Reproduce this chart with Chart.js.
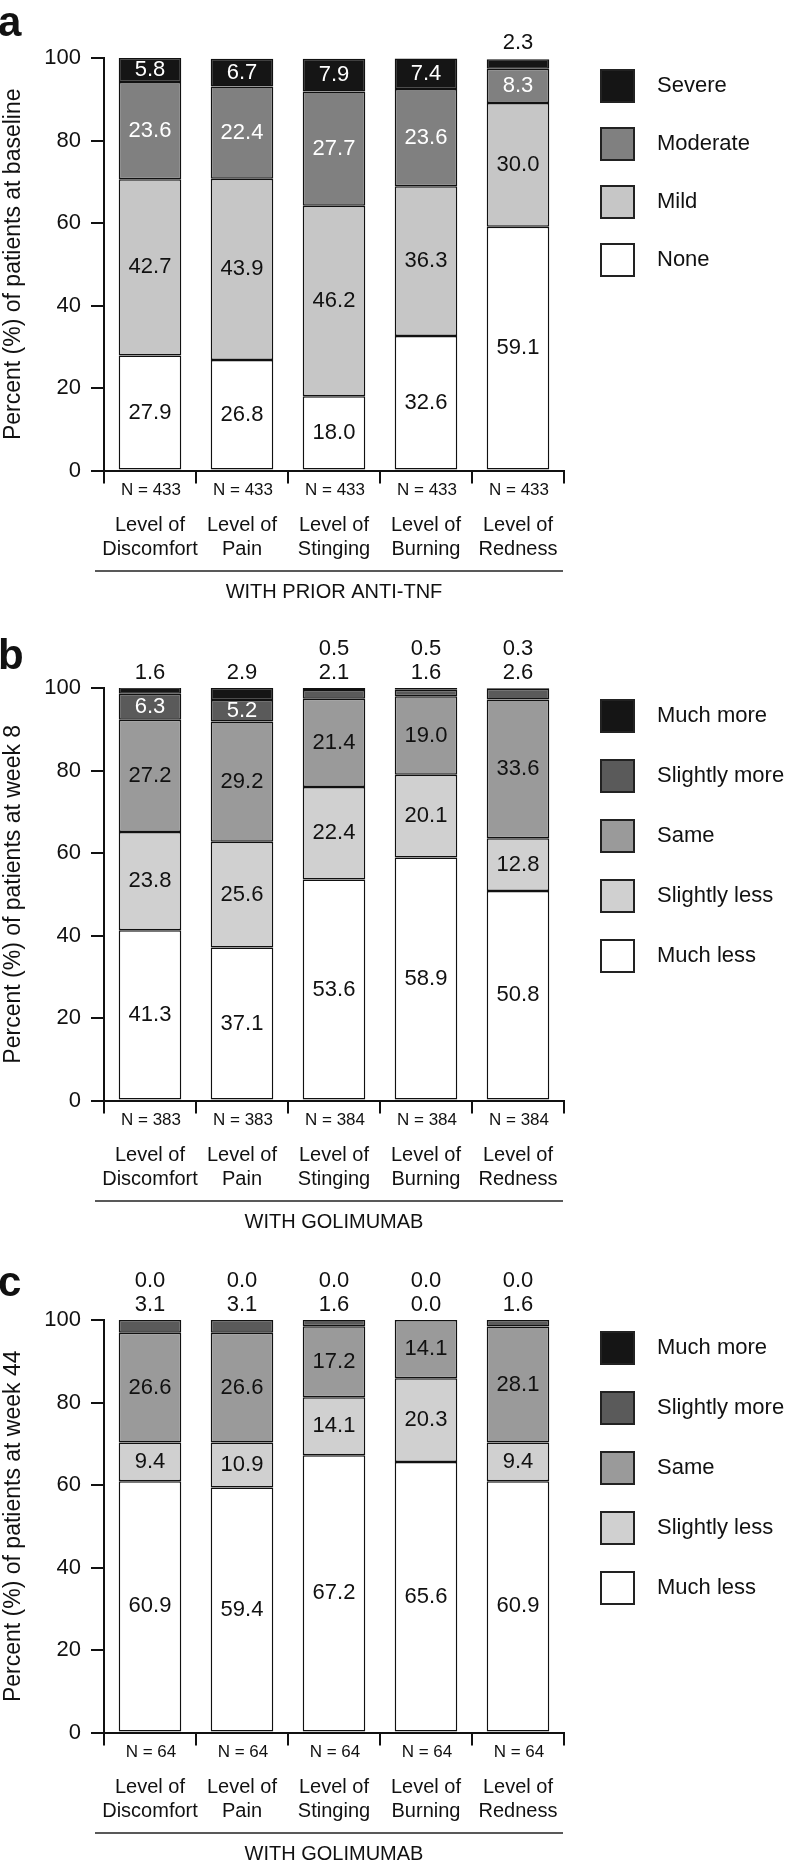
<!DOCTYPE html>
<html>
<head>
<meta charset="utf-8">
<script src="https://cdn.jsdelivr.net/npm/chart.js@4/dist/chart.umd.min.js"></script>
<style>
  body { margin: 0; background: #fff; }
  .panel { position: absolute; left: 0; width: 793px; height: 608px; }
</style>
</head>
<body>
<div class="panel" style="top:0px"><canvas id="chart-a"></canvas></div>
<div class="panel" style="top:630px"><canvas id="chart-b"></canvas></div>
<div class="panel" style="top:1262px"><canvas id="chart-c"></canvas></div>
<script>
// categories and sample sizes
const categories = [
  ['Level of', 'Discomfort'],
  ['Level of', 'Pain'],
  ['Level of', 'Stinging'],
  ['Level of', 'Burning'],
  ['Level of', 'Redness']
];
const nBaseline = [433, 433, 433, 433, 433];
const nWeek8 = [383, 383, 384, 384, 384];
const nWeek44 = [64, 64, 64, 64, 64];
const yTicks = [0, 20, 40, 60, 80, 100];

// panel a: severity at baseline
const baselineLabels = ['None', 'Mild', 'Moderate', 'Severe'];
const baseNone = [27.9, 26.8, 18.0, 32.6, 59.1];
const baseMild = [42.7, 43.9, 46.2, 36.3, 30.0];
const baseModerate = [23.6, 22.4, 27.7, 23.6, 8.3];
const baseSevere = [5.8, 6.7, 7.9, 7.4, 2.3];

// panel b: change at week 8
const changeLabels = ['Much less', 'Slightly less', 'Same', 'Slightly more', 'Much more'];
const w8MuchLess = [41.3, 37.1, 53.6, 58.9, 50.8];
const w8SlightlyLess = [23.8, 25.6, 22.4, 20.1, 12.8];
const w8Same = [27.2, 29.2, 21.4, 19.0, 33.6];
const w8SlightlyMore = [6.3, 5.2, 2.1, 1.6, 2.6];
const w8MuchMore = [1.6, 2.9, 0.5, 0.5, 0.3];

// panel c: change at week 44
const w44MuchLess = [60.9, 59.4, 67.2, 65.6, 60.9];
const w44SlightlyLess = [9.4, 10.9, 14.1, 20.3, 9.4];
const w44Same = [26.6, 26.6, 17.2, 14.1, 28.1];
const w44SlightlyMore = [3.1, 3.1, 1.6, 0.0, 1.6];
const w44MuchMore = [0.0, 0.0, 0.0, 0.0, 0.0];

const baselineColors = ['#ffffff', '#c6c6c6', '#808080', '#151515'];
const baselineText = ['#111', '#111', '#fff', '#fff'];
const changeColors = ['#ffffff', '#d0d0d0', '#9a9a9a', '#5a5a5a', '#151515'];
const changeText = ['#111', '#111', '#111', '#fff', '#fff'];

Chart.defaults.font.family = '"Liberation Sans", Arial, Helvetica, sans-serif';
Chart.defaults.color = '#111';

const FONT = '"Liberation Sans", Arial, Helvetica, sans-serif';

// draws value labels, N labels, legend and panel extras
const panelDecor = {
  id: 'panelDecor',
  afterDatasetsDraw(chart, args, opts) {
    const ctx = chart.ctx;
    const area = chart.chartArea;
    ctx.save();
    ctx.textAlign = 'center';
    ctx.textBaseline = 'middle';
    ctx.font = '22px ' + FONT;
    categories.forEach((c, i) => {
      let row = 0;
      chart.data.datasets.forEach((ds, d) => {
        const v = ds.data[i];
        const bar = chart.getDatasetMeta(d).data[i];
        if (v < 4) {
          // small segments are labelled above the bar
          ctx.fillStyle = '#111';
          ctx.fillText(v.toFixed(1), bar.x, area.top - 15 - row * 24);
          row++;
        } else {
          ctx.fillStyle = opts.textColors[d];
          ctx.fillText(v.toFixed(1), bar.x, (bar.y + bar.base) / 2);
        }
      });
    });
    ctx.restore();
  },
  afterDraw(chart, args, opts) {
    const ctx = chart.ctx;
    const xs = chart.scales.x;
    ctx.save();

    // panel letter
    ctx.fillStyle = '#111';
    ctx.font = 'bold 42px ' + FONT;
    ctx.textAlign = 'left';
    ctx.textBaseline = 'alphabetic';
    ctx.fillText(opts.letter, -2, opts.letterY);

    // N labels
    ctx.font = '17px ' + FONT;
    ctx.textAlign = 'center';
    ctx.textBaseline = 'middle';
    opts.n.forEach((n, i) => {
      ctx.fillText('N = ' + n, xs.getPixelForValue(i) + 1, 490);
    });

    // group line and title
    ctx.strokeStyle = '#222';
    ctx.lineWidth = 1.5;
    ctx.beginPath();
    ctx.moveTo(95, 571);
    ctx.lineTo(563, 571);
    ctx.stroke();
    ctx.font = '20px ' + FONT;
    ctx.fillText(opts.group, 334, 592);

    // legend, top of stack first
    const items = chart.data.datasets.map(ds => ({ label: ds.label, color: ds.backgroundColor })).reverse();
    ctx.font = '22px ' + FONT;
    ctx.textAlign = 'left';
    items.forEach((it, k) => {
      const cy = 86 + k * opts.legendStep;
      ctx.fillStyle = it.color;
      ctx.fillRect(601, cy - 16, 33, 32);
      ctx.strokeStyle = '#222';
      ctx.lineWidth = 2;
      ctx.strokeRect(601, cy - 16, 33, 32);
      ctx.fillStyle = '#111';
      ctx.fillText(it.label, 657, cy);
    });
    ctx.restore();
  }
};

function makeChart(id, labels, series, colors, textColors, yTitle, decor) {
  const datasets = series.map((data, d) => ({
    label: labels[d],
    data: data,
    backgroundColor: colors[d],
    borderColor: '#111',
    borderWidth: 1.5,
    borderSkipped: false,
    barPercentage: 0.68,
    categoryPercentage: 1
  }));
  return new Chart(document.getElementById(id), {
    type: 'bar',
    data: { labels: categories, datasets: datasets },
    plugins: [panelDecor],
    options: {
      responsive: true,
      maintainAspectRatio: false,
      animation: false,
      layout: { padding: { top: 58, right: 229, left: 0, bottom: 0 } },
      plugins: {
        legend: { display: false },
        tooltip: { enabled: false },
        panelDecor: Object.assign({ textColors: textColors }, decor)
      },
      scales: {
        x: {
          stacked: true,
          grid: { offset: true, drawOnChartArea: false, drawTicks: true, tickLength: 13, color: '#111', lineWidth: 2 },
          border: { display: true, color: '#111', width: 2 },
          ticks: { font: { size: 20, lineHeight: 1.2 }, color: '#111', padding: 30, maxRotation: 0, autoSkip: false },
          afterFit(scale) { scale.height = 137.5; }
        },
        y: {
          stacked: true,
          min: 0,
          max: 100,
          afterBuildTicks(scale) { scale.ticks = yTicks.map(v => ({ value: v })); },
          grid: { drawOnChartArea: false, drawTicks: true, tickLength: 13, color: '#111', lineWidth: 2 },
          border: { display: true, color: '#111', width: 2 },
          ticks: { font: { size: 22 }, color: '#111', padding: 10 },
          title: { display: true, text: yTitle, font: { size: 23 }, color: '#111', padding: { top: 0, bottom: 0 } },
          afterFit(scale) { scale.width = 104; }
        }
      }
    }
  });
}

makeChart('chart-a', baselineLabels,
  [baseNone, baseMild, baseModerate, baseSevere],
  baselineColors, baselineText,
  'Percent (%) of patients at baseline',
  { letter: 'a', letterY: 36, n: nBaseline, group: 'WITH PRIOR ANTI-TNF', legendStep: 58 });

makeChart('chart-b', changeLabels,
  [w8MuchLess, w8SlightlyLess, w8Same, w8SlightlyMore, w8MuchMore],
  changeColors, changeText,
  'Percent (%) of patients at week 8',
  { letter: 'b', letterY: 39, n: nWeek8, group: 'WITH GOLIMUMAB', legendStep: 60 });

makeChart('chart-c', changeLabels,
  [w44MuchLess, w44SlightlyLess, w44Same, w44SlightlyMore, w44MuchMore],
  changeColors, changeText,
  'Percent (%) of patients at week 44',
  { letter: 'c', letterY: 34, n: nWeek44, group: 'WITH GOLIMUMAB', legendStep: 60 });
</script>
</body>
</html>
